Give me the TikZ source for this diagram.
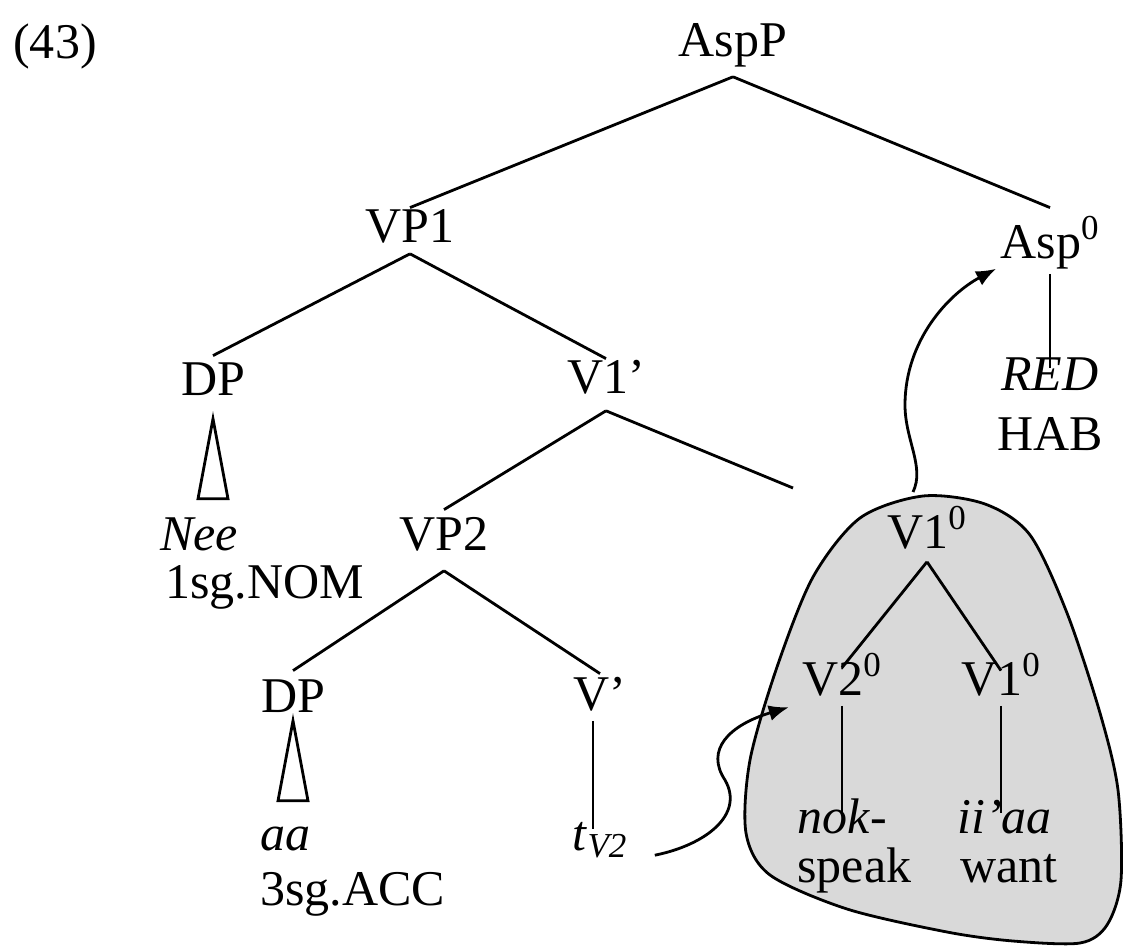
\documentclass[tikz,border=0pt]{standalone}
\usepackage{fontspec}
\setmainfont{Liberation Serif}
\usetikzlibrary{arrows.meta,calc}
\tikzset{
	cat/.style={inner sep=0pt, anchor=base, text height=0.7em, text depth=0.22em},
	word/.style={inner sep=0pt, anchor=base west, text height=0.7em, text depth=0.22em},
	branch/.style={line width=1.4pt},
	move/.style={line width=1.4pt, -{Latex[length=10pt,width=8pt]}}
}

\begin{document}
\begin{tikzpicture}[x=0.5pt, y=-0.5pt, font=\fontsize{25}{28}\selectfont]
		\useasboundingbox (0,0) rectangle (1123,948);
		% shaded complex head
		\draw[branch, fill=gray!30] plot[smooth cycle] coordinates {
			(923,496) (985,504) (1030,535) (1067,613) (1100,713) (1118,790)
			(1121,880) (1107,925) (1080,943) (1013,941) (947,932) (847,909)
			(770,875) (746,833) (750,760) (777,667) (813,577) (860,518)};
		\coordinate (blobtop) at (913,492);
		
		\node[cat] at (55,58) (ex) {(43)};
		\node[cat] at (733,56) (AspP) {AspP};
		\node[cat] at (410,242) (VP1) {VP1};
		\node[cat] at (1050,258) (Asp0) {Asp\textsuperscript{0}};
		\node[cat] at (1050,390) (RED) {\textit{RED}};
		\node[cat] at (1050,450) (HAB) {HAB};
		\node[cat] at (213,395) (DPa) {DP};
		\node[cat] at (606,393) (V1bar) {V1’};
		\node[word] at (160,550) (Nee) {\textit{Nee}};
		\node[word] at (165,598) (NOM) {1sg.NOM};
		\node[cat] at (444,550) (VP2) {VP2};
		\node[cat] at (293,712) (DPb) {DP};
		\node[cat] at (600,710) (Vbar) {V’};
		\node[word] at (260,850) (aa) {\textit{aa}};
		\node[word] at (260,905) (ACC) {3sg.ACC};
		\node[cat] at (600,850) (tV2) {\textit{t}\textsubscript{\textit{V2}}};
		
		\node[cat] at (927,548) (V1top) {V1\textsuperscript{0}};
		\node[cat] at (842,695) (V2zero) {V2\textsuperscript{0}};
		\node[cat] at (1001,695) (V1zero) {V1\textsuperscript{0}};
		\node[word] at (797,833) (nok) {\textit{nok}-};
		\node[word] at (797,882) (speak) {speak};
		\node[word] at (957,833) (iiaa) {\textit{ii’aa}};
		\node[word] at (960,882) (want) {want};
		
		\coordinate (V1gap) at (793,488);
		
		\draw[branch] ([yshift=-8pt]AspP.south) -- ([yshift=10pt]VP1.north);
		\draw[branch] ([yshift=-8pt]AspP.south) -- ([yshift=18pt]Asp0.north);
		\draw[branch] ([yshift=-5.5pt]Asp0.south) -- ([yshift=4pt]RED.north);
		\draw[branch] ([yshift=-3.5pt]VP1.south) -- ([yshift=12.5pt]DPa.north);
		\draw[branch] ([yshift=-3.5pt]VP1.south) -- ([yshift=10pt]V1bar.north);
		\draw[branch] ([yshift=-9.5pt]DPa.south) -- ++(-15,80) -- ++(30,0) -- cycle;
		\draw[branch] ([yshift=-6.5pt]V1bar.south) -- ([yshift=13pt]VP2.north);
		\draw[branch] ([yshift=-6.5pt]V1bar.south) -- (V1gap);
		\draw[branch] ([yshift=-8pt]VP2.south) -- ([yshift=13.5pt]DPb.north);
		\draw[branch] ([yshift=-8pt]VP2.south) -- ([yshift=11pt]Vbar.north);
		\draw[branch] ([yshift=-2pt]DPb.south) -- ++(-15,80) -- ++(30,0) -- cycle;
		\draw[branch] ($(Vbar.south)+(-3.5pt,-3pt)$) -- ($(Vbar.south |- tV2.north)+(-3.5pt,3.5pt)$);
		
		\draw[branch] ([yshift=-4.5pt]V1top.south) -- ([yshift=6.5pt]V2zero.north);
		\draw[branch] ([yshift=-4.5pt]V1top.south) -- ([yshift=5pt]V1zero.north);
		\draw[branch] ([yshift=-3pt]V2zero.south) -- ($(V2zero.south |- nok.north)+(0,3pt)$);
		\draw[branch] ([yshift=-3pt]V1zero.south) -- ($(V1zero.south |- iiaa.north)+(0,3pt)$);
		
		% head movement
		\draw[move] ([xshift=13.5pt,yshift=-5pt]tV2.east) .. controls +(50,-10) and +(20,35) .. (725,780)
			.. controls +(-20,-30) and +(-60,18) .. ([xshift=-6.5pt,yshift=-8.5pt]V2zero.west);
		\draw[move] (blobtop) .. controls +(12,-25) and +(0,35) .. (905,405)
			.. controls +(0,-65) and +(-47,25) .. ([xshift=-2pt,yshift=-3pt]Asp0.south west);
		
	\end{tikzpicture}
\end{document}
